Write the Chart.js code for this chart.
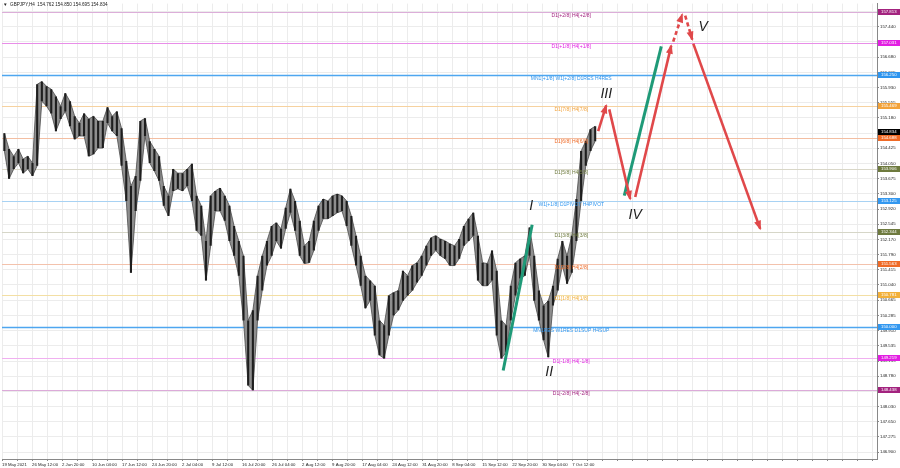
<!DOCTYPE html>
<html>
<head>
<meta charset="utf-8">
<script src="https://cdn.jsdelivr.net/npm/chart.js"></script>
<style>
  html, body { margin: 0; padding: 0; background: #fff; }
</style>
</head>
<body>
<canvas id="myChart" width="900" height="468"></canvas>
<script>
// H4 bars, grouped 5 bars per sample (high / low of each group)
const barStep = 5;
const highs = [
  154.80,154.41,154.23,154.41,154.16,154.23,154.06,156.01,156.08,155.96,
  155.89,155.71,155.47,155.79,155.59,155.22,155.05,155.29,155.15,155.22,
  155.10,155.10,155.44,155.22,155.34,154.92,154.11,153.49,153.74,155.10,
  155.17,154.60,154.41,154.23,153.49,153.25,153.91,153.81,153.81,153.91,
  154.04,153.25,153.00,152.13,153.25,153.37,153.44,153.25,153.00,152.50,
  152.13,151.76,150.16,150.41,151.27,151.76,152.13,152.50,152.58,152.43,
  152.95,153.42,153.12,152.63,152.01,152.13,152.63,153.00,153.17,153.12,
  153.25,153.29,153.25,153.12,152.75,152.26,151.76,151.27,151.15,151.02,
  150.16,150.04,150.78,150.85,150.90,151.39,151.27,151.52,151.59,151.76,
  152.01,152.21,152.26,152.18,152.13,152.06,152.01,152.18,152.50,152.68,
  152.83,152.26,151.59,151.57,151.89,151.39,150.16,150.04,151.02,151.59,
  151.69,151.76,152.46,151.76,150.90,150.53,150.65,151.02,151.69,152.13,
  151.76,152.26,153.17,154.36,154.60,154.90,154.97
];
const lows = [
  154.36,153.67,153.91,154.06,153.81,153.91,153.74,153.99,155.59,155.47,
  155.29,154.85,155.15,155.34,154.97,154.65,154.73,154.73,154.23,154.28,
  154.43,154.43,155.05,154.85,154.73,153.99,153.12,151.34,152.87,153.62,
  154.73,154.06,153.86,153.62,153.00,152.75,153.37,153.42,153.37,153.49,
  153.12,152.38,152.26,151.15,152.01,152.87,152.87,152.63,152.13,151.76,
  151.27,150.16,148.55,148.43,150.16,150.90,151.52,151.76,152.13,151.94,
  152.43,152.83,152.38,151.76,151.57,151.59,151.89,152.38,152.68,152.68,
  152.75,152.83,152.87,152.50,152.01,151.52,151.02,150.46,150.65,149.79,
  149.30,149.22,149.79,150.28,150.41,150.65,150.78,150.90,151.10,151.27,
  151.52,151.76,151.89,151.76,151.69,151.52,151.52,151.69,152.01,152.13,
  152.26,151.15,151.02,151.02,151.15,149.79,149.22,149.37,150.16,150.78,
  151.20,151.27,151.76,150.65,150.16,149.67,149.25,150.53,150.90,151.52,
  151.07,151.34,152.13,153.12,153.99,154.36,154.60
];
const timeLabels = ['19 May 2021','26 May 12:00','2 Jun 20:00','10 Jun 04:00','17 Jun 12:00',
  '24 Jun 20:00','2 Jul 04:00','9 Jul 12:00','16 Jul 20:00','26 Jul 04:00','2 Aug 12:00',
  '9 Aug 20:00','17 Aug 04:00','24 Aug 12:00','31 Aug 20:00','8 Sep 04:00','15 Sep 12:00',
  '22 Sep 20:00','30 Sep 04:00','7 Oct 12:00'];
const priceTicks = [157.815,157.440,157.065,156.680,156.305,155.930,155.555,155.180,154.800,
  154.425,154.050,153.675,153.300,152.920,152.545,152.170,151.790,151.415,151.040,150.665,
  150.285,149.910,149.535,149.155,148.780,148.405,148.030,147.650,147.275,146.900];
const levelPrices = [157.813,157.031,156.250,155.469,154.688,153.906,153.125,152.344,
  151.563,150.781,150.000,149.219,148.438];
const levelNames = ['D1[+2/8] H4[+2/8]','D1[+1/8] H4[+1/8]','MN1[+1/8] W1[+2/8] D1RES H4RES',
  'D1[7/8] H4[7/8]','D1[6/8] H4[6/8]','D1[5/8] H4[5/8]','W1[+1/8] D1PIVOT H4PIVOT',
  'D1[3/8] H4[3/8]','D1[2/8] H4[2/8]','D1[1/8] H4[1/8]','MN1RES W1RES D1SUP H4SUP',
  'D1[-1/8] H4[-1/8]','D1[-2/8] H4[-2/8]'];
const lastPrice = 154.834;
const headerText = 'GBPJPY,H4  154.762 154.850 154.695 154.834';

// drawn wave forecast (bar index, price)
const greenLegs = [
  [[534.4,148.92],[565.3,152.53]],
  [[663.5,153.25],[703.0,156.95]]
];
const redLegs = [
  [[635.7,154.85],[644.3,155.49],false],
  [[647.5,155.39],[669.9,153.17],false],
  [[675.2,153.22],[713.6,156.97],false],
  [[715.7,157.07],[725.3,157.74],true],
  [[728.5,157.71],[736.0,157.12],true],
  [[737.1,157.02],[808.5,152.43],false]
];
const waveLabels = [['I',564.3,153.00],['II',583.5,148.87],['III',644.3,155.76],
  ['IV',675.2,152.78],['V',747.7,157.44]];

// styles
const levelLineColors = ['#dcaed9','#e88ee8','#4ea6f0','#f6d2a0','#f3bea2','#d9d7c8','#a8d2f3',
  '#d6d6c8','#f3c2ac','#f3dfa4','#4ea6f0','#f0b0f0','#dcaad9'];
const levelBoxColors = ['#a3237f','#e21ee2','#2f95ee','#f2a23a','#ef6a26','#6e7a3e','#3398f0',
  '#6e7a3e','#ef6a26','#f2b03a','#3398f0','#e21ee2','#a3237f'];
const levelLabelBar = 607;
const xMin = 0, xMax = 933;
const yMin = 146.727, yMax = 158.011;

const overlay = {
  id: 'overlay',
  beforeDatasetsDraw(chart) {
    const {ctx, chartArea: a, scales: {y}} = chart;
    ctx.save();
    levelPrices.forEach((p, i) => {
      const py = Math.round(y.getPixelForValue(p)) + 0.5;
      ctx.strokeStyle = levelLineColors[i];
      ctx.lineWidth = (i === 2 || i === 10) ? 1.4 : 1;
      ctx.beginPath(); ctx.moveTo(a.left, py); ctx.lineTo(a.right, py); ctx.stroke();
    });
    ctx.restore();
  },
  afterDatasetsDraw(chart) {
    const {ctx, scales: {x, y}} = chart;
    ctx.save();
    ctx.font = '5px "Liberation Sans"';
    ctx.textAlign = 'center'; ctx.textBaseline = 'top';
    levelPrices.forEach((p, i) => {
      ctx.fillStyle = levelBoxColors[i];
      ctx.fillText(levelNames[i], x.getPixelForValue(levelLabelBar), Math.round(y.getPixelForValue(p)) + 1.5);
    });
    ctx.fillStyle = '#e0484a';
    redLegs.forEach(([p0, p1]) => {
      const x0 = x.getPixelForValue(p0[0]), y0 = y.getPixelForValue(p0[1]);
      const x1 = x.getPixelForValue(p1[0]), y1 = y.getPixelForValue(p1[1]);
      const ang = Math.atan2(y1 - y0, x1 - x0);
      const len = 8, half = 3.5;
      ctx.beginPath();
      ctx.moveTo(x1 + 1.5 * Math.cos(ang), y1 + 1.5 * Math.sin(ang));
      ctx.lineTo(x1 - len * Math.cos(ang) + half * Math.sin(ang), y1 - len * Math.sin(ang) - half * Math.cos(ang));
      ctx.lineTo(x1 - len * Math.cos(ang) - half * Math.sin(ang), y1 - len * Math.sin(ang) + half * Math.cos(ang));
      ctx.closePath(); ctx.fill();
    });
    ctx.fillStyle = '#1e1e1e';
    ctx.font = 'italic 14px "Liberation Sans"';
    ctx.textAlign = 'center'; ctx.textBaseline = 'middle';
    waveLabels.forEach(([t, b, p]) => ctx.fillText(t, x.getPixelForValue(b), y.getPixelForValue(p)));
    ctx.restore();
  },
  afterDraw(chart) {
    const {ctx, chartArea: a, scales: {y}} = chart;
    ctx.save();
    ctx.font = '4.3px "Liberation Sans"';
    ctx.textAlign = 'left'; ctx.textBaseline = 'middle';
    const box = (p, col) => {
      const py = Math.round(y.getPixelForValue(p));
      ctx.fillStyle = col;
      ctx.fillRect(a.right + 1, py - 3, 22, 6);
      ctx.fillStyle = '#fff';
      ctx.fillText(p.toFixed(3), a.right + 4, py + 0.3);
    };
    levelPrices.forEach((p, i) => box(p, levelBoxColors[i]));
    box(lastPrice, '#000');
    ctx.fillStyle = '#222';
    ctx.font = '4.6px "Liberation Sans"';
    ctx.fillText('\u25BC  ' + headerText, 3, 5);
    ctx.restore();
  }
};

const ctx = document.getElementById('myChart');
const xs = highs.map((h, i) => i * barStep + barStep / 2);
const datasets = [{
  type: 'bar',
  data: highs.map((h, i) => ({x: xs[i], y: [lows[i], h]})),
  backgroundColor: '#1e1e1e',
  barPercentage: 0.45,
  categoryPercentage: 1,
  order: 2
}, {
  data: highs.map((h, i) => ({x: xs[i], y: h})),
  borderColor: '#4a4a4a', borderWidth: 0.8, pointRadius: 0, tension: 0, order: 3
}, {
  data: lows.map((l, i) => ({x: xs[i], y: l})),
  borderColor: '#4a4a4a', borderWidth: 0.8, pointRadius: 0, tension: 0,
  fill: '-1', backgroundColor: '#8e8e8e', order: 3
}];
greenLegs.forEach(leg => datasets.push({
  data: leg.map(p => ({x: p[0], y: p[1]})),
  borderColor: '#1f9a78', borderWidth: 3, pointRadius: 0, order: 1
}));
redLegs.forEach(leg => datasets.push({
  data: [leg[0], leg[1]].map(p => ({x: p[0], y: p[1]})),
  borderColor: '#e0484a', borderWidth: 2.6, pointRadius: 0,
  borderDash: leg[2] ? [4, 3] : [], order: 0
}));

new Chart(ctx, {
  type: 'line',
  data: {datasets},
  options: {
    responsive: false,
    animation: false,
    layout: {padding: {top: 2, left: 2}},
    plugins: {legend: {display: false}, tooltip: {enabled: false}},
    scales: {
      x: {
        type: 'linear', min: xMin, max: xMax, offset: false,
        afterBuildTicks: (s) => { s.ticks = []; for (let v = 0; v <= xMax; v += 16) s.ticks.push({value: v}); },
        afterFit: (s) => { s.height = 9; },
        grid: {color: '#ececec', tickColor: '#888', tickLength: 2, offset: false},
        border: {color: '#888'},
        ticks: {
          autoSkip: false, maxRotation: 0, align: 'start', padding: 1, color: '#222',
          font: {family: 'Liberation Sans', size: 4.3},
          callback: (v) => (v % 32 === 0 && timeLabels[v / 32]) ? timeLabels[v / 32] : ''
        }
      },
      y: {
        position: 'right', min: yMin, max: yMax,
        afterBuildTicks: (s) => { s.ticks = priceTicks.map(v => ({value: v})); },
        afterFit: (s) => { s.width = 23; },
        grid: {color: '#ececec', tickColor: '#888', tickLength: 2},
        border: {color: '#888'},
        ticks: {
          autoSkip: false, padding: 1, color: '#222',
          font: {family: 'Liberation Sans', size: 4.3},
          callback: (v) => v.toFixed(3)
        }
      }
    }
  },
  plugins: [overlay]
});
</script>
</body>
</html>
